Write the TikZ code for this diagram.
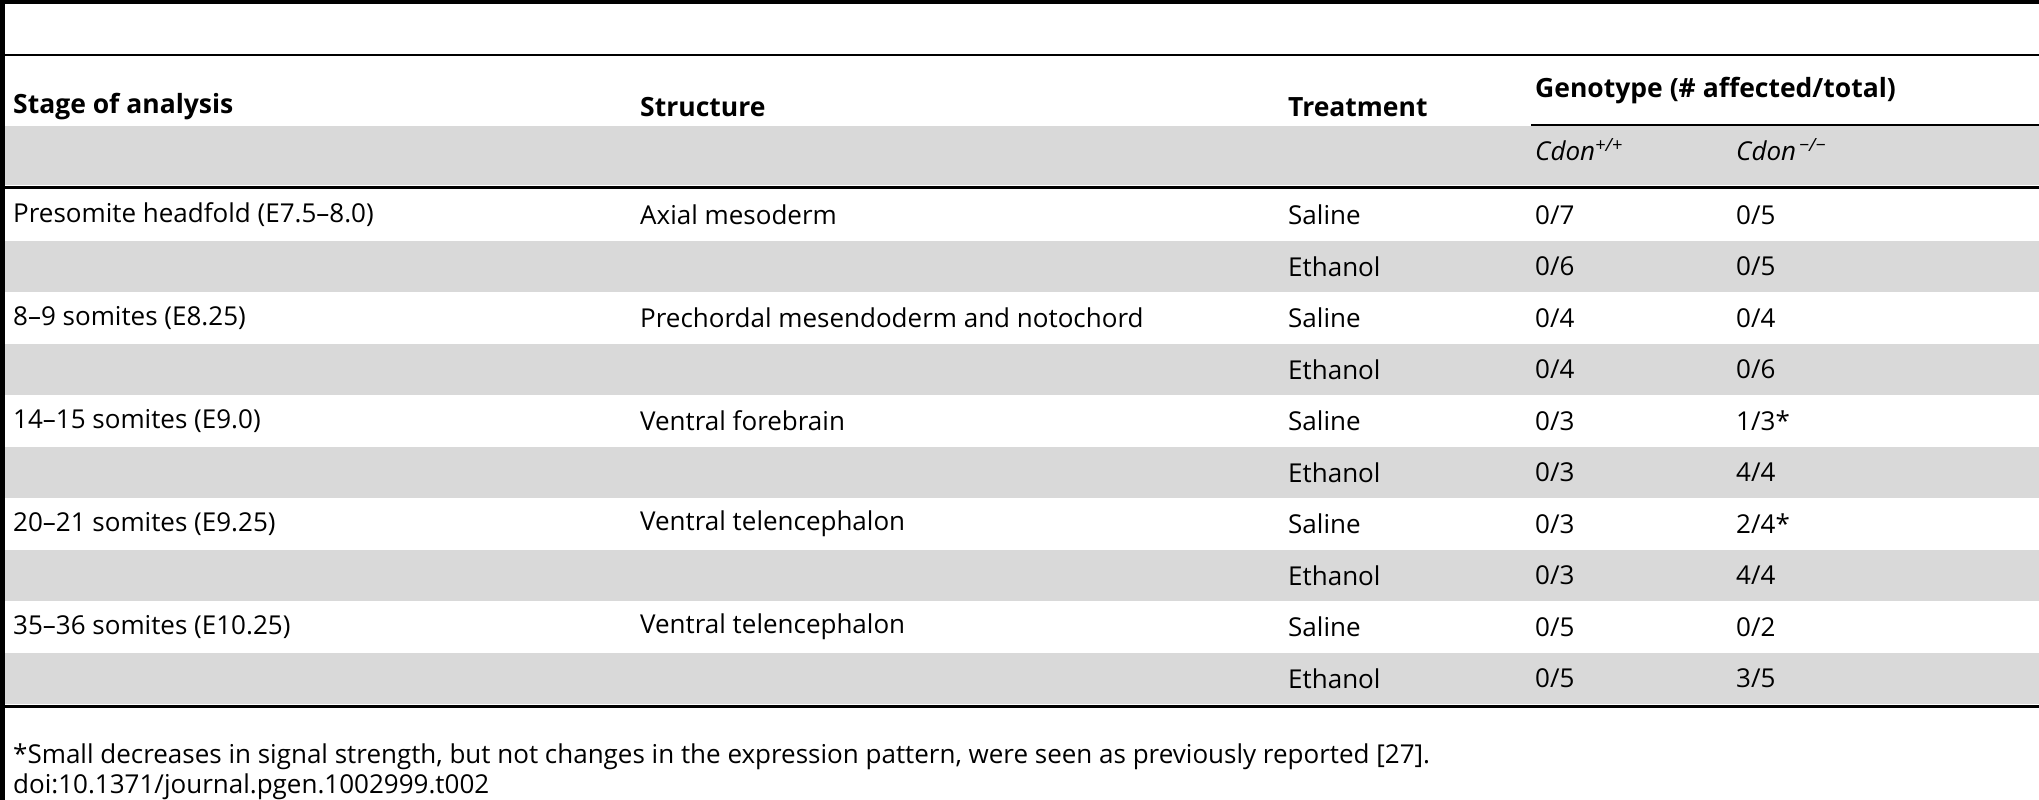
\documentclass[tikz,border=0pt]{standalone}
\usepackage{fontspec}
\setmainfont{Open Sans}
\definecolor{band}{HTML}{D9D9D9}
\begin{document}
\begin{tikzpicture}[x=1pt,y=-1pt,
  txt/.style={anchor=west,inner sep=0pt,font=\fontsize{26}{30}\selectfont},
  hd/.style={txt,font=\fontsize{26.5}{30}\selectfont\bfseries}]
\useasboundingbox (0,0) rectangle (2039,800);
% gray bands
\fill[band] (0,126) rectangle (2039,185);
\foreach \k in {1,3,5,7,9} \fill[band] (0,{189+51.5*\k}) rectangle (2039,{189+51.5*(\k+1)});
% rules
\draw[line width=4pt] (0,2) -- (2039,2);
\draw[line width=2pt] (0,55) -- (2039,55);
\draw[line width=1.5pt] (1531,125) -- (2039,125);
\draw[line width=3pt] (0,187) -- (2039,187);
\draw[line width=3pt] (0,706) -- (2039,706);
\draw[line width=5pt] (2.5,0) -- (2.5,800);
% header
\node[hd] (h1) at (13,107) {Stage of analysis};
\node[hd] (h2) at (640,107) {Structure};
\node[hd] (h3) at (1288,107) {Treatment};
\node[hd] (h4) at (1535,91) {Genotype (\# affected/total)};
\node[txt] (g1) at (1535,150) {\itshape Cdon\textsuperscript{+/+}};
\node[txt] (g2) at (1736,150) {\itshape Cdon\textsuperscript{\,−/−}};
% rows
\foreach [count=\i from 0] \a/\b/\c/\d/\e in {
 {Presomite headfold (E7.5–8.0)}/{Axial mesoderm}/Saline/0\slash 7/0\slash 5,
 {}/{}/Ethanol/0\slash 6/0\slash 5,
 {8–9 somites (E8.25)}/{Prechordal mesendoderm and notochord}/Saline/0\slash 4/0\slash 4,
 {}/{}/Ethanol/0\slash 4/0\slash 6,
 {14–15 somites (E9.0)}/{Ventral forebrain}/Saline/0\slash 3/1\slash 3*,
 {}/{}/Ethanol/0\slash 3/4\slash 4,
 {20–21 somites (E9.25)}/{Ventral telencephalon}/Saline/0\slash 3/2\slash 4*,
 {}/{}/Ethanol/0\slash 3/4\slash 4,
 {35–36 somites (E10.25)}/{Ventral telencephalon}/Saline/0\slash 5/0\slash 2,
 {}/{}/Ethanol/0\slash 5/3\slash 5} {
  \node[txt] (a\i) at (13,{189+51.5*\i+25.75}) {\a};
  \node[txt] (b\i) at (640,{189+51.5*\i+25.75}) {\b};
  \node[txt] (c\i) at (1288,{189+51.5*\i+25.75}) {\c};
  \node[txt] (d\i) at (1535,{189+51.5*\i+25.75}) {\d};
  \node[txt] (e\i) at (1736,{189+51.5*\i+25.75}) {\e};
}
\node[txt] (f1) at (13,757) {*Small decreases in signal strength, but not changes in the expression pattern, were seen as previously reported [27].};
\node[txt] (f2) at (13,787) {doi:10.1371/journal.pgen.1002999.t002};
\end{tikzpicture}
\end{document}
